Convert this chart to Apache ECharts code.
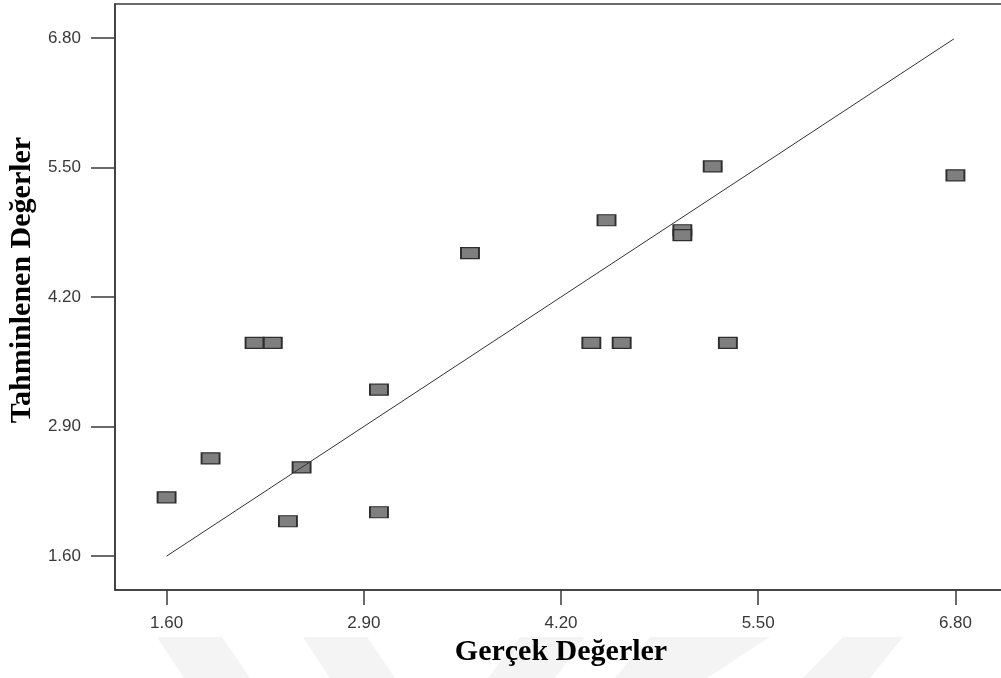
<!DOCTYPE html>
<html>
<head>
<meta charset="utf-8">
<script src="https://cdn.jsdelivr.net/npm/echarts@6/dist/echarts.min.js"></script>
<style>
  html, body { margin: 0; padding: 0; background: #ffffff; }
  #chart { width: 1001px; height: 678px; }
</style>
</head>
<body>
<div id="chart"></div>
<script>
// Actual vs. predicted values
const actualValues    = [1.60, 1.89, 2.18, 2.30, 2.40, 2.49, 3.00, 3.00, 3.60, 4.40, 4.50, 4.60, 5.00, 5.00, 5.20, 5.30, 6.80];
const predictedValues = [2.19, 2.58, 3.74, 3.74, 1.95, 2.49, 3.27, 2.04, 4.64, 3.74, 4.97, 3.74, 4.87, 4.82, 5.51, 3.74, 5.42];

// Reference line (predicted = actual)
const fitX = [1.60, 6.79];
const fitY = [1.60, 6.79];

// Axis tick values
const tickValues = [1.60, 2.90, 4.20, 5.50, 6.80];

const axisMin = 1.26;
const axisMax = 7.14;

const points = actualValues.map((v, i) => [v, predictedValues[i]]);
const fitLine = fitX.map((v, i) => [v, fitY[i]]);

const chart = echarts.init(document.getElementById('chart'), null, { renderer: 'canvas' });

const tickFont = { fontFamily: '"Liberation Sans", Arial, sans-serif', fontSize: 17, color: '#383838' };
const titleFont = { fontFamily: '"Liberation Serif", "Times New Roman", serif', fontSize: 30, fontWeight: 'bold', color: '#000000' };

// faint diagonal bands along the bottom edge
const bandColor = '#f4f4f4';
const bands = [
  [[157, 637], [222, 637], [250, 678], [184, 678]],
  [[303, 637], [367, 637], [395, 678], [330, 678]],
  [[520, 637], [585, 637], [555, 678], [488, 678]],
  [[650, 637], [770, 637], [707, 678], [615, 678]],
  [[843, 637], [903, 637], [870, 678], [803, 678]]
];

chart.setOption({
  animation: false,
  backgroundColor: '#ffffff',
  graphic: bands.map(pts => ({
    type: 'polygon',
    z: -10,
    silent: true,
    shape: { points: pts },
    style: { fill: bandColor }
  })),
  grid: {
    left: 115, right: -6, top: 4, bottom: 88,
    outerBoundsMode: 'none',
    containLabel: false,
    show: true,
    borderColor: '#3a3a3a',
    borderWidth: 1.5,
    backgroundColor: 'transparent'
  },
  xAxis: {
    type: 'value',
    min: axisMin,
    max: axisMax,
    name: 'Gerçek Değerler',
    nameLocation: 'middle',
    nameGap: 46,
    nameTextStyle: titleFont,
    axisLine: { show: true, onZero: false, lineStyle: { color: '#3a3a3a', width: 1.5 } },
    axisTick: { show: true, inside: false, length: 15, customValues: tickValues, lineStyle: { color: '#3a3a3a', width: 1.5 } },
    axisLabel: { customValues: tickValues, margin: 25, formatter: v => v.toFixed(2), ...tickFont },
    splitLine: { show: false }
  },
  yAxis: {
    type: 'value',
    min: axisMin,
    max: axisMax,
    name: 'Tahminlenen Değerler',
    nameLocation: 'middle',
    nameGap: 74,
    nameTextStyle: { ...titleFont, padding: [0, 0, 0, 34] },
    axisLine: { show: true, onZero: false, lineStyle: { color: '#3a3a3a', width: 1.5 } },
    axisTick: { show: true, inside: false, length: 24, customValues: tickValues, lineStyle: { color: '#3a3a3a', width: 1.5 } },
    axisLabel: { customValues: tickValues, margin: 34, formatter: v => v.toFixed(2), ...tickFont },
    splitLine: { show: false }
  },
  series: [
    {
      type: 'scatter',
      data: points,
      symbol: 'rect',
      symbolSize: [18, 11],
      itemStyle: { color: '#7f7f7f', borderColor: '#2e2e2e', borderWidth: 1.5, opacity: 1 },
      z: 2
    },
    {
      type: 'line',
      data: fitLine,
      showSymbol: false,
      symbol: 'none',
      lineStyle: { color: '#333333', width: 1 },
      z: 3
    }
  ]
});
</script>
</body>
</html>
